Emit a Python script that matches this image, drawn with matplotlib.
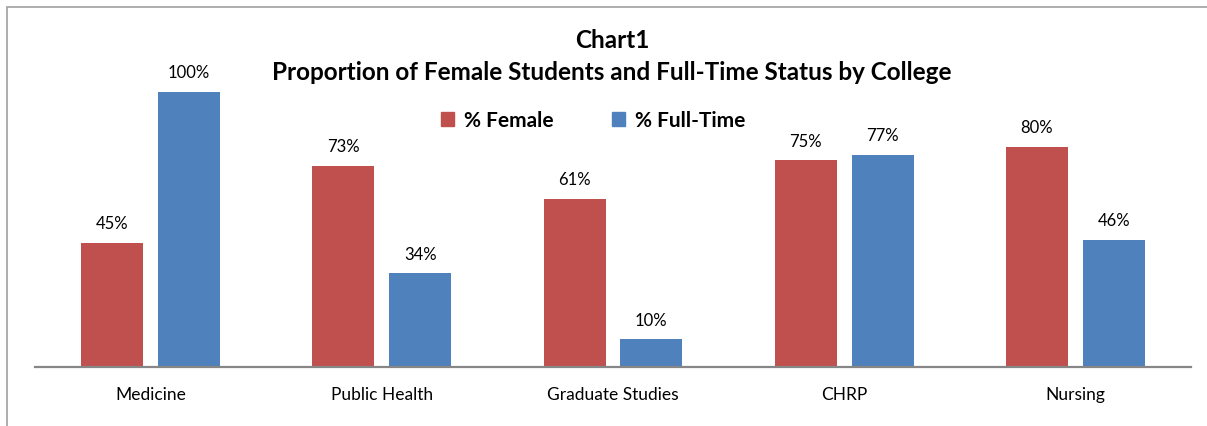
import matplotlib
matplotlib.use("Agg")
import numpy as np
import matplotlib.pyplot as plt
from matplotlib.patches import Rectangle, Patch

# ============================================================
# data
# ============================================================
colleges = ["Medicine", "Public Health", "Graduate Studies", "CHRP", "Nursing"]
pct_female = [45, 73, 61, 75, 80]
pct_fulltime = [100, 34, 10, 77, 46]

series_names = ["% Female", "% Full-Time"]
red = "#C0504D"
blue = "#4F81BD"

plt.rcParams["font.family"] = ["Lato", "DejaVu Sans"]

fig = plt.figure(figsize=(12.07, 4.27), dpi=100)
ax = fig.add_axes([0.029, 0.1382, 0.9577, 0.7742])

x = np.arange(len(colleges))
width = 0.268
off = 0.166

b1 = ax.bar(x - off, pct_female, width, color=red)
b2 = ax.bar(x + off, pct_fulltime, width, color=blue)

for bars, vals in [(b1, pct_female), (b2, pct_fulltime)]:
    for rect, v in zip(bars, vals):
        ax.annotate(
            f"{v}%",
            (rect.get_x() + rect.get_width() / 2, v),
            xytext=(0, 8.5),
            textcoords="offset points",
            ha="center",
            va="bottom",
            fontsize=12,
            color="black"
        )

ax.set_xlim(-0.5, len(colleges) - 0.5)
ax.set_ylim(0, 120)
ax.set_xticks(x)
ax.set_xticklabels(colleges, fontsize=12.5)
ax.set_yticks([])
ax.tick_params(axis="x", length=0, pad=14)

for s in ["top", "right", "left"]:
    ax.spines[s].set_visible(False)
ax.spines["bottom"].set_color("#868686")
ax.spines["bottom"].set_linewidth(1.6)

fig.text(0.507, 1 - 40 / 427, "Chart1", ha="center", va="center",
         fontsize=17.5, fontweight="bold")
fig.text(0.507, 1 - 73 / 427,
         "Proportion of Female Students and Full-Time Status by College",
         ha="center", va="center", fontsize=17.5, fontweight="bold")

handles = [Patch(color=red), Patch(color=blue)]
fig.legend(
    handles,
    series_names,
    loc="center",
    bbox_to_anchor=(0.4913, 1 - 121 / 427),
    ncol=2,
    frameon=False,
    prop={"weight": "bold", "size": 15},
    handlelength=0.65,
    handleheight=0.65,
    handletextpad=0.45,
    columnspacing=2.8
)

# chart border (cut off at right and bottom like the source)
fig.add_artist(Rectangle((7 / 1207, -0.1), 1.5, 1.1 - 8 / 427,
                         transform=fig.transFigure, fill=False,
                         edgecolor="#A0A0A0", linewidth=1.2))

fig.savefig("out.png", dpi=100)
